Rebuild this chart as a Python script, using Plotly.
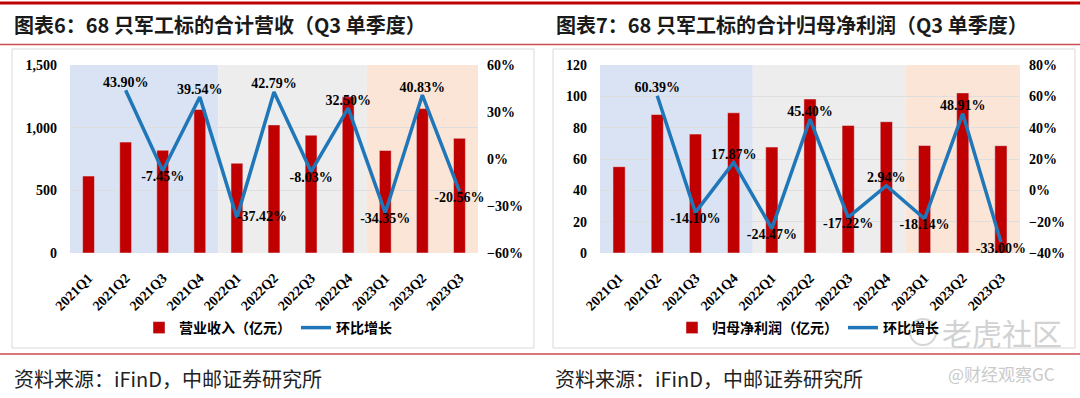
import plotly.graph_objects as go

# ---------------- data ----------------
quarters = ["2021Q1", "2021Q2", "2021Q3", "2021Q4",
            "2022Q1", "2022Q2", "2022Q3", "2022Q4",
            "2023Q1", "2023Q2", "2023Q3"]

revenue = [614, 885, 820, 1145, 716, 1022, 940, 1246, 818, 1152, 915]          # 亿元
revenue_qoq = [None, 43.90, -7.45, 39.54, -37.42, 42.79, -8.03, 32.50, -34.35, 40.83, -20.56]

profit = [55.1, 88.4, 75.9, 89.5, 67.6, 98.3, 81.4, 83.8, 68.6, 102.2, 68.5]   # 亿元
profit_qoq = [None, 60.39, -14.10, 17.87, -24.47, 45.40, -17.22, 2.94, -18.14, 48.91, -33.00]

left_title = "图表6：68 只军工标的合计营收（Q3 单季度）"
right_title = "图表7：68 只军工标的合计归母净利润（Q3 单季度）"
source_text = "资料来源：iFinD，中邮证券研究所"
left_bar_name = "营业收入（亿元）"
right_bar_name = "归母净利润（亿元）"
line_name = "环比增长"

# ---------------- styles ----------------
W, H = 1080, 398
BAR_COLOR = "#c00000"
LINE_COLOR = "#1f77b9"
SERIF = "Liberation Serif"
CJK = "Noto Sans CJK SC"
SHADES = [("#dae3f3", -0.5, 3.5), ("#ededed", 3.5, 7.5), ("#fbe5d6", 7.5, 10.5)]


def px_x(v):
    return v / W


def px_y(v):
    return 1 - v / H


def positions(vals, overrides=None):
    pos = []
    for v in vals:
        if v is None or v >= 0:
            pos.append("top center")
        else:
            pos.append("bottom center")
    if overrides:
        for k, p in overrides.items():
            pos[k] = p
    return pos


def fmt(vals):
    return ["" if v is None else f"{v:.2f}%" for v in vals]


fig = go.Figure()

# left chart
fig.add_trace(go.Bar(x=quarters, y=revenue, name=left_bar_name, marker_color=BAR_COLOR,
                     width=0.32, xaxis="x", yaxis="y", legend="legend"))
fig.add_trace(go.Scatter(x=quarters, y=revenue_qoq, name=line_name, mode="lines+text",
                         line=dict(color=LINE_COLOR, width=3.5),
                         text=fmt(revenue_qoq),
                         textposition=positions(revenue_qoq, {4: "middle right"}),
                         textfont=dict(family=SERIF, size=14, color="#000", weight="bold"),
                         xaxis="x", yaxis="y2", legend="legend", cliponaxis=False))

# right chart
fig.add_trace(go.Bar(x=quarters, y=profit, name=right_bar_name, marker_color=BAR_COLOR,
                     width=0.32, xaxis="x2", yaxis="y3", legend="legend2"))
fig.add_trace(go.Scatter(x=quarters, y=profit_qoq, name=line_name, mode="lines+text",
                         line=dict(color=LINE_COLOR, width=3.5),
                         text=fmt(profit_qoq),
                         textposition=positions(profit_qoq),
                         textfont=dict(family=SERIF, size=14, color="#000", weight="bold"),
                         xaxis="x2", yaxis="y4", legend="legend2", cliponaxis=False))

y_dom = [px_y(253), px_y(65)]
tickfont = dict(family=SERIF, size=14, color="#000", weight="bold")
xtickfont = dict(family=SERIF, size=14, color="#000", weight="bold")

common_x = dict(type="category", range=[-0.5, 10.5], tickangle=-45, tickfont=xtickfont,
                showgrid=False, showline=False, zeroline=False, ticks="",
                ticklabelstandoff=13, fixedrange=True, automargin=False)
common_y = dict(tickfont=tickfont, showline=False, zeroline=False, ticks="",
                gridcolor="#dedede", gridwidth=1, automargin=False)
right_y = dict(side="right", showgrid=False, ticklabelstandoff=8, ticksuffix="%",
               tickfont=tickfont, showline=False, zeroline=False, ticks="", automargin=False)

fig.update_layout(
    width=W, height=H,
    autosize=False,
    margin=dict(l=0, r=0, t=0, b=0, pad=0, autoexpand=False),
    paper_bgcolor="#ffffff", plot_bgcolor="rgba(0,0,0,0)",
    xaxis=dict(domain=[px_x(70), px_x(478)], anchor="y", **common_x),
    yaxis=dict(domain=y_dom, anchor="x", range=[0, 1500], dtick=500, tickformat=",",
               ticklabelstandoff=12, **common_y),
    yaxis2=dict(overlaying="y", anchor="x", range=[-60, 60], dtick=30, **right_y),
    xaxis2=dict(domain=[px_x(600), px_x(1020)], anchor="y3", **common_x),
    yaxis3=dict(domain=y_dom, anchor="x2", range=[0, 120], dtick=20,
                ticklabelstandoff=12, **common_y),
    yaxis4=dict(overlaying="y3", anchor="x2", range=[-40, 80], dtick=20, **right_y),
    legend=dict(orientation="h", x=px_x(268), xanchor="center", y=px_y(328), yanchor="middle",
                font=dict(family=CJK, size=14, color="#000", weight="bold"),
                bgcolor="rgba(0,0,0,0)", traceorder="normal"),
    legend2=dict(orientation="h", x=px_x(808), xanchor="center", y=px_y(328), yanchor="middle",
                 font=dict(family=CJK, size=14, color="#000", weight="bold"),
                 bgcolor="rgba(0,0,0,0)", traceorder="normal"),
)

shapes = []
# background shading of periods
for xr, yr in (("x", "y domain"), ("x2", "y3 domain")):
    for color, a, b in SHADES:
        shapes.append(dict(type="rect", xref=xr, yref=yr, x0=a, x1=b, y0=0, y1=1,
                           fillcolor=color, line_width=0, layer="below"))
# chart boxes
for x0, x1 in ((12, 534), (553, 1075)):
    shapes.append(dict(type="rect", xref="paper", yref="paper",
                       x0=px_x(x0), x1=px_x(x1), y0=px_y(348), y1=px_y(49),
                       line=dict(color="#d9d9d9", width=1), fillcolor="rgba(0,0,0,0)", layer="below"))
# red rules
shapes.append(dict(type="line", xref="paper", yref="paper", x0=0, x1=1, y0=px_y(3), y1=px_y(3),
                   line=dict(color="#c00000", width=3)))
for yy in (44.5, 354):
    shapes.append(dict(type="line", xref="paper", yref="paper", x0=0, x1=1, y0=px_y(yy), y1=px_y(yy),
                       line=dict(color="#cc4b4f", width=1.5)))
# watermark logo circle
shapes.append(dict(type="circle", xref="paper", yref="paper",
                   x0=px_x(910), x1=px_x(936), y0=px_y(345), y1=px_y(319),
                   line=dict(color="#d6d6d6", width=2)))
fig.update_layout(shapes=shapes)

annotations = []
for txt, x in ((left_title, 12), (right_title, 554)):
    annotations.append(dict(text=txt, xref="paper", yref="paper", x=px_x(x), y=px_y(24),
                            xanchor="left", yanchor="middle", showarrow=False,
                            font=dict(family=CJK, size=20, color="#1a1a1a", weight="bold")))
for x in (12, 553):
    annotations.append(dict(text=source_text, xref="paper", yref="paper", x=px_x(x), y=px_y(378),
                            xanchor="left", yanchor="middle", showarrow=False,
                            font=dict(family=CJK, size=20, color="#222")))
annotations.append(dict(text="老虎社区", xref="paper", yref="paper", x=px_x(1002), y=px_y(332),
                        xanchor="center", yanchor="middle", showarrow=False,
                        font=dict(family=CJK, size=30, color="#d2d2d2")))
annotations.append(dict(text="@财经观察GC", xref="paper", yref="paper", x=px_x(1001), y=px_y(373),
                        xanchor="center", yanchor="middle", showarrow=False,
                        font=dict(family=CJK, size=17, color="#cacaca")))
fig.update_layout(annotations=annotations)

fig.write_html("out.html", config={"displayModeBar": False},
               post_script="document.body.style.margin='0';")
